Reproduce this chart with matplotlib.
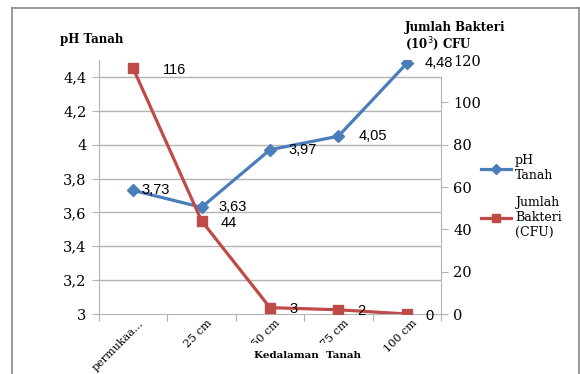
import numpy as np
import matplotlib.pyplot as plt
import matplotlib.transforms as mtransforms
from matplotlib.lines import Line2D

# data
kedalaman = ["permukaa...", "25 cm", "50 cm", "75 cm", "100 cm"]
ph_tanah = [3.73, 3.63, 3.97, 4.05, 4.48]
ph_labels = ["3,73", "3,63", "3,97", "4,05", "4,48"]
bakteri = [116, 44, 3, 2, 0]
ph_ticks = [3.0, 3.2, 3.4, 3.6, 3.8, 4.0, 4.2, 4.4]
ph_ticklabels = ["3", "3,2", "3,4", "3,6", "3,8", "4", "4,2", "4,4"]
bakteri_ticks = [0, 20, 40, 60, 80, 100, 120]

BLUE = "#4a7ebb"
RED = "#be4b48"
GRID = "#b3b3b3"
W, H = 580, 374

fig = plt.figure(figsize=(5.8, 3.74), dpi=100)
ax = fig.add_axes([99 / W, 60 / H, 342 / W, 254 / H])
ax2 = ax.twinx()

x = np.arange(len(kedalaman))

# pH line
ax.plot(x, ph_tanah, color=BLUE, lw=2.3, marker="D", ms=6.5, zorder=3)
ax.set_xlim(-0.5, len(kedalaman) - 0.5)
ax.set_ylim(3.0, 4.5)
ax.set_yticks(ph_ticks)
ax.set_yticklabels(ph_ticklabels, family="DejaVu Serif", fontsize=10.5)
for t in ph_ticks[1:]:
    ax.axhline(t, color=GRID, lw=1, zorder=0)

# bacteria line
ax2.plot(x, bakteri, color=RED, lw=2.3, marker="s", ms=7.5, zorder=3)
ax2.set_ylim(0, 120)
ax2.set_yticks(bakteri_ticks)
ax2.set_yticklabels([str(v) for v in bakteri_ticks], family="DejaVu Serif", fontsize=10.5)

# x axis: ticks between categories
ax.set_xticks(np.arange(-0.5, len(kedalaman) + 0.5, 1.0))
ax.set_xticklabels([])
ax.set_xticks(x, minor=True)
ax.set_xticklabels(kedalaman, minor=True, rotation=45, ha="right",
                   rotation_mode="anchor", family="DejaVu Serif", fontsize=8)
ax.tick_params(axis="x", which="minor", length=0, pad=3)
ax.tick_params(axis="x", which="major", length=5, color=GRID)
ax.tick_params(axis="y", length=5, color=GRID, pad=4)
ax2.tick_params(axis="y", length=5, color=GRID, pad=4)
shift = mtransforms.ScaledTranslation(5 / 100, 0, fig.dpi_scale_trans)
for lab in ax.get_xticklabels(minor=True):
    lab.set_transform(lab.get_transform() + shift)

for a in (ax, ax2):
    for s in a.spines.values():
        s.set_visible(False)
ax.spines["left"].set_visible(True)
ax.spines["left"].set_color(GRID)
ax.spines["bottom"].set_visible(True)
ax.spines["bottom"].set_color(GRID)
ax2.spines["right"].set_visible(True)
ax2.spines["right"].set_color(GRID)
ax2.spines["right"].set_bounds(0, 112)

# data labels
ph_dx = [0.12, 0.25, 0.27, 0.29, 0.26]
for xi, yi, lab, dx in zip(x, ph_tanah, ph_labels, ph_dx):
    ax.text(xi + dx, yi, lab, fontsize=10.5, family="Liberation Sans",
            va="center", ha="left")
bak_dx = [0.44, 0.28, 0.28, 0.27, 0.27]
for xi, yi, dx in zip(x, bakteri, bak_dx):
    ax2.text(xi + dx, yi - 0.8, str(yi), fontsize=10.5, family="Liberation Sans",
             va="center", ha="left")

# axis titles
fig.text(60 / W, 1 - 40 / H, "pH Tanah", fontsize=8.5, fontweight="bold",
         family="DejaVu Serif", va="center")
fig.text(405 / W, 1 - 37 / H, "Jumlah Bakteri\n(10$^3$) CFU", fontsize=8.5,
         fontweight="bold", family="DejaVu Serif", va="center", linespacing=1.1)
fig.text(308 / W, 1 - 356 / H, "Kedalaman  Tanah", fontsize=7.5, fontweight="bold",
         family="DejaVu Serif", ha="center", va="center",
         bbox=dict(facecolor="white", edgecolor="none", pad=6), zorder=5)

# legend
handles = [Line2D([], [], color=BLUE, lw=2.3, marker="D", ms=5),
           Line2D([], [], color=RED, lw=2.3, marker="s", ms=6)]
fig.legend(handles, ["pH\nTanah", "Jumlah\nBakteri\n(CFU)"],
           loc="upper left", bbox_to_anchor=(470 / W, 1 - 143 / H),
           frameon=False, prop={"family": "DejaVu Serif", "size": 9},
           handlelength=2.4, handletextpad=0.3, labelspacing=1.1)

# outer frame
fig.add_artist(Line2D([12 / W, 12 / W], [0, 1 - 8 / H], color="#888888", lw=1.2))
fig.add_artist(Line2D([12 / W, 579 / W], [1 - 8 / H, 1 - 8 / H], color="#888888", lw=1.2))
fig.add_artist(Line2D([578.5 / W, 578.5 / W], [0, 1 - 8 / H], color="#888888", lw=1.2))

fig.savefig("out.png", dpi=100)
